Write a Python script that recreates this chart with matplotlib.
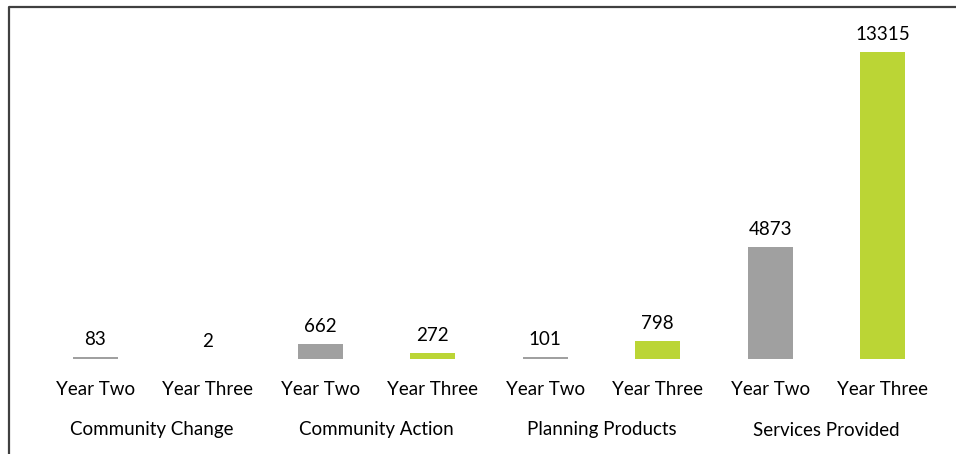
import matplotlib

matplotlib.use("Agg")
import matplotlib.pyplot as plt
from matplotlib.lines import Line2D
import numpy as np

categories = ["Community Change", "Community Action", "Planning Products", "Services Provided"]
years = ["Year Two", "Year Three"]
year_two = [83, 662, 101, 4873]
year_three = [2, 272, 798, 13315]

GRAY = "#A0A0A0"
LIME = "#BBD535"
FS = 13.5

plt.rcParams["font.family"] = ["Lato", "DejaVu Sans"]

fig = plt.figure(figsize=(9.56, 4.54), dpi=100)
W, H = 956, 454
ax = fig.add_axes([39 / W, 1 - 359 / H, 900 / W, 339 / H])

values = []
colors = []
labels = []
for a, b in zip(year_two, year_three):
    values += [a, b]
    colors += [GRAY, LIME]
    labels += years
x = np.arange(len(values))

ax.bar(x, values, width=0.4, color=colors)
for xi, v in zip(x, values):
    ax.annotate(str(v), (xi, v), xytext=(0, 6.5), textcoords="offset points",
                ha="center", va="bottom", fontsize=FS, annotation_clip=False)

ax.set_xlim(-0.5, len(values) - 0.5)
ax.set_ylim(0, max(values) * 1.104)
ax.set_xticks(x)
ax.set_xticklabels(labels, fontsize=FS)
ax.tick_params(axis="x", length=0, pad=16)
ax.set_yticks([])
for s in ax.spines.values():
    s.set_visible(False)

for i, cat in enumerate(categories):
    ax.annotate(cat, (2 * i + 0.5, 0), xycoords=("data", "axes fraction"),
                xytext=(0, -71 * 0.72), textcoords="offset points",
                ha="center", va="center", fontsize=FS)

# outer frame (left and top edges)
fig.add_artist(Line2D([8.5 / W, 8.5 / W, 1], [0, 1 - 7 / H, 1 - 7 / H],
                      transform=fig.transFigure, color="#404040", lw=1.6))

fig.savefig("out.png", dpi=100)
